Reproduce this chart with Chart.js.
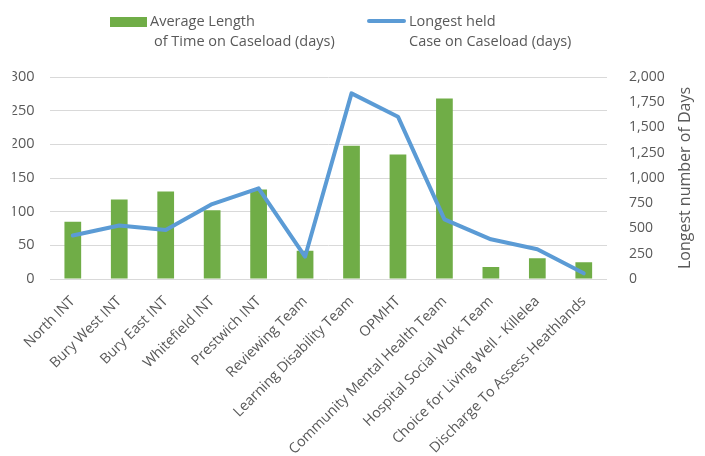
<!DOCTYPE html>
<html>
<head>
<meta charset="utf-8">
<script src="https://cdn.jsdelivr.net/npm/chart.js@4.4.1/dist/chart.umd.min.js"></script>
<style>
  html, body { margin: 0; padding: 0; background: #fff; }
  #wrap { position: relative; width: 705px; height: 456px; overflow: hidden; background: #fff; }
  #box { position: absolute; left: 11px; top: 0; width: 694px; height: 456px; }
  .legend { position: absolute; font-family: "Open Sans", sans-serif; font-size: 14.5px; line-height: 20px; color: #595959; }
  .swatch { position: absolute; }
</style>
</head>
<body>
<div id="wrap">
  <div id="box"><canvas id="chart"></canvas></div>
  <div class="swatch" style="left:110px;top:17px;width:37px;height:10px;background:#70AD47;"></div>
  <div class="legend" style="left:150px;top:11px;">Average Length<br><span style="padding-left:4px">of Time on Caseload (days)</span></div>
  <div class="swatch" style="left:367px;top:19px;width:39px;height:4px;border-radius:2px;background:#5B9BD5;"></div>
  <div class="legend" style="left:409px;top:11px;">Longest held<br>Case on Caseload (days)</div>
</div>
<script>
// Teams along the x axis
const teams = [
  "North INT", "Bury West INT", "Bury East INT", "Whitefield INT", "Prestwich INT",
  "Reviewing Team", "Learning Disability Team", "OPMHT", "Community Mental Health Team",
  "Hospital Social Work Team", "Choice for Living Well - Killelea", "Discharge To Assess Heathlands"
];
// Average length of time on caseload (days) – bars, left axis
const avgDays = [85, 118, 130, 102, 133, 42, 198, 185, 268, 18, 31, 25];
// Longest held case on caseload (days) – line, right axis
const longestDays = [430, 530, 485, 742, 898, 221, 1838, 1607, 591, 393, 294, 56];

const leftMax = 300, leftStep = 50;
const rightMax = 2000, rightStep = 250;
const rightTitle = "Longest number of Days";

const textColor = "#595959";
const fontFamily = "'Open Sans', sans-serif";

// Right-hand axis title, reading bottom to top
const rightTitlePlugin = {
  id: "rightTitle",
  afterDraw(chart) {
    const { ctx, chartArea } = chart;
    ctx.save();
    ctx.font = "16px " + fontFamily;
    ctx.fillStyle = textColor;
    ctx.textAlign = "center";
    ctx.textBaseline = "middle";
    ctx.translate(674, (chartArea.top + chartArea.bottom) / 2);
    ctx.rotate(-Math.PI / 2);
    ctx.fillText(rightTitle, 0, 0);
    ctx.restore();
  }
};

new Chart(document.getElementById("chart"), {
  data: {
    labels: teams,
    datasets: [
      {
        type: "line",
        label: "Longest held Case on Caseload (days)",
        data: longestDays,
        yAxisID: "y1",
        borderColor: "#5B9BD5",
        borderWidth: 4,
        pointRadius: 0,
        tension: 0,
        borderCapStyle: "round",
        borderJoinStyle: "round",
        order: 0
      },
      {
        type: "bar",
        label: "Average Length of Time on Caseload (days)",
        data: avgDays,
        yAxisID: "y",
        backgroundColor: "#70AD47",
        barPercentage: 0.36,
        categoryPercentage: 1,
        order: 1
      }
    ]
  },
  options: {
    responsive: true,
    maintainAspectRatio: false,
    animation: false,
    layout: { padding: { top: 77 } },
    plugins: { legend: { display: false }, tooltip: { enabled: false } },
    scales: {
      x: {
        offset: true,
        grid: { display: false, drawTicks: false },
        border: { display: false },
        ticks: {
          color: textColor,
          font: { family: fontFamily, size: 14.3 },
          maxRotation: 45, minRotation: 45,
          autoSkip: false,
          padding: 14
        },
        afterFit(scale) { scale.height = 177; }
      },
      y: {
        position: "left",
        min: 0, max: leftMax,
        ticks: {
          stepSize: leftStep,
          color: textColor,
          font: { family: fontFamily, size: 14.5 },
          padding: 15
        },
        grid: { color: "#D9D9D9", lineWidth: 1, drawTicks: false },
        border: { display: false },
        afterFit(scale) { scale.width = 37; }
      },
      y1: {
        position: "right",
        min: 0, max: rightMax,
        ticks: {
          stepSize: rightStep,
          color: textColor,
          font: { family: fontFamily, size: 14 },
          padding: 22,
          callback: v => v.toLocaleString("en-US")
        },
        grid: { display: false, drawTicks: false },
        border: { display: false },
        afterFit(scale) { scale.width = 98; }
      }
    }
  },
  plugins: [rightTitlePlugin]
});
</script>
</body>
</html>
